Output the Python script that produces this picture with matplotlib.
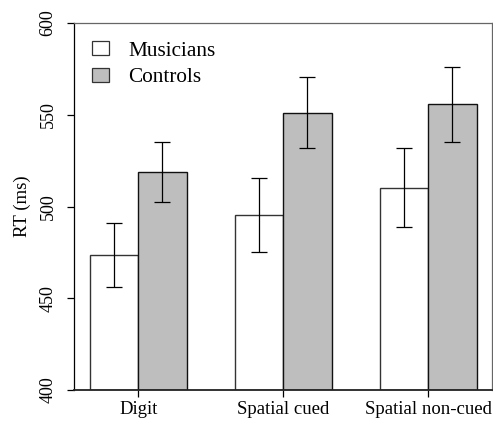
import matplotlib
matplotlib.use("Agg")
import matplotlib.pyplot as plt
import numpy as np
from matplotlib.patches import Patch

categories = ["Digit", "Spatial cued", "Spatial non-cued"]
musicians = [473.5, 495.4, 510.2]
musicians_err = [17.5, 20.4, 21.6]
controls = [519.0, 551.1, 555.8]
controls_err = [16.4, 19.3, 20.4]
yticks = [400, 450, 500, 550, 600]

plt.rcParams['font.family'] = ['Liberation Serif', 'DejaVu Serif']
fs = 13.5
lfs = 15.3

fig = plt.figure(figsize=(4.93, 4.22), dpi=100)
ax = fig.add_axes([74/493, 32/422, 418/493, 367/422])

n = len(categories)
left_m = np.arange(n) * 3 + 1.0
ctr_m = left_m + 0.5
ctr_c = left_m + 1.5

ax.bar(ctr_m, np.array(musicians) - 400, width=1.0, bottom=400, color='white',
       edgecolor='#333333', linewidth=1.0, zorder=2)
ax.bar(ctr_c, np.array(controls) - 400, width=1.0, bottom=400, color='#bebebe',
       edgecolor='#111111', linewidth=1.0, zorder=2)
ax.errorbar(ctr_m, musicians, yerr=musicians_err, fmt='none', ecolor='black',
            elinewidth=0.9, capsize=6, capthick=0.9, zorder=3)
ax.errorbar(ctr_c, controls, yerr=controls_err, fmt='none', ecolor='black',
            elinewidth=0.9, capsize=6, capthick=0.9, zorder=3)

ax.set_xlim(0.67, 9.32)
ax.set_ylim(400, 600)
ax.set_yticks(yticks)
ax.set_yticklabels([str(v) for v in yticks], rotation=90, va='center', fontsize=13)
ax.set_xticks(left_m + 1.0)
ax.set_xticklabels(categories, fontsize=fs)
ax.tick_params(axis='y', length=5, width=0.9, pad=7.5)
ax.tick_params(axis='x', length=5, width=0.9, pad=3)
ax.set_ylabel("RT (ms)", fontsize=fs, labelpad=6)

for s in ['top', 'right']:
    ax.spines[s].set_color('#666666')
    ax.spines[s].set_linewidth(0.9)
ax.spines['left'].set_color('black')
ax.spines['left'].set_linewidth(0.9)
ax.spines['bottom'].set_color('#222222')
ax.spines['bottom'].set_linewidth(1.3)

handles = [Patch(facecolor='white', edgecolor='#333333', linewidth=0.9, label='Musicians'),
           Patch(facecolor='#bebebe', edgecolor='#333333', linewidth=0.9, label='Controls')]
ax.legend(handles=handles, loc='upper left', frameon=False, fontsize=lfs,
          handlelength=0.8, handleheight=0.66, handletextpad=0.9,
          labelspacing=0.33, borderaxespad=0.45, borderpad=0.4,
          bbox_to_anchor=(0.0, 1.0))

fig.savefig("out.png", dpi=100)
